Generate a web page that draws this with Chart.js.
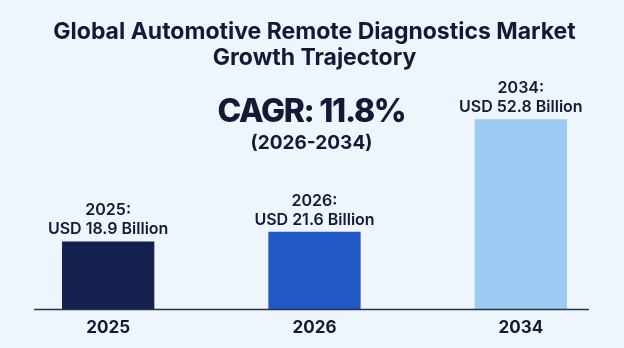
<!DOCTYPE html>
<html>
<head>
<meta charset="utf-8">
<script src="https://cdn.jsdelivr.net/npm/chart.js@4"></script>
<style>
  html, body { margin: 0; padding: 0; background: #eef5fc; }
  #wrap { width: 624px; height: 348px; }
</style>
</head>
<body>
<div id="wrap"><canvas id="marketChart" width="624" height="348"></canvas></div>
<script>
// data
var years = ["2025", "2026", "2034"];
var marketSize = [18.9, 21.6, 52.8];   // USD billion
var barColors = ["#14204e", "#2359c6", "#9ccbf3"];
var titleLines = ["Global Automotive Remote Diagnostics Market", "Growth Trajectory"];
var cagrText = "CAGR: 11.8%";
var cagrPeriod = "(2026-2034)";

var FONT = "Inter, 'Open Sans', sans-serif";
var INK = "#131a36";

// value labels over each bar: "2025:" / "USD 18.9 Billion"
const barLabels = {
    id: "barLabels",
    afterDatasetsDraw(chart) {
        var ctx = chart.ctx;
        var meta = chart.getDatasetMeta(0);
        ctx.save();
        ctx.fillStyle = INK;
        ctx.textAlign = "center";
        ctx.textBaseline = "middle";
        ctx.font = "600 16px " + FONT;
        meta.data.forEach((bar, i) => {
            ctx.fillText(years[i] + ":", bar.x, bar.y - 31);
            ctx.fillText("USD " + marketSize[i].toFixed(1) + " Billion", bar.x, bar.y - 12);
        });
        ctx.restore();
    }
};

// CAGR callout + baseline
const extras = {
    id: "extras",
    afterDatasetsDraw(chart) {
        var ctx = chart.ctx;
        var area = chart.chartArea;
        var meta = chart.getDatasetMeta(0);
        var y0 = chart.scales.y.getPixelForValue(0);
        ctx.save();
        ctx.strokeStyle = "#2a3347";
        ctx.lineWidth = 1.5;
        ctx.beginPath();
        ctx.moveTo(meta.data[0].x - 74, y0);
        ctx.lineTo(meta.data[2].x + 68, y0);
        ctx.stroke();

        var cx = (area.left + area.right) / 2 - 3;
        ctx.fillStyle = INK;
        ctx.textAlign = "center";
        ctx.textBaseline = "middle";
        ctx.letterSpacing = "-1.3px";
        ctx.font = "800 32px " + FONT;
        ctx.fillText(cagrText, cx, area.top + 35);
        ctx.letterSpacing = "0px";
        ctx.font = "700 19px " + FONT;
        ctx.fillText(cagrPeriod, cx, area.top + 66);
        ctx.restore();
    }
};

new Chart("marketChart", {
    type: "bar",
    data: {
        labels: years,
        datasets: [{
            data: marketSize,
            backgroundColor: barColors,
            borderWidth: 0,
            barPercentage: 0.9,
            categoryPercentage: 0.497
        }]
    },
    options: {
        responsive: false,
        animation: false,
        layout: { padding: { left: 5, right: 0, top: 0, bottom: 10 } },
        plugins: {
            legend: { display: false },
            tooltip: { enabled: false },
            title: {
                display: true,
                text: titleLines,
                color: INK,
                font: { family: FONT, size: 23, weight: "700", lineHeight: 1.13 },
                padding: { top: 19, bottom: 6 }
            }
        },
        scales: {
            x: {
                grid: { display: false },
                border: { display: false },
                ticks: {
                    color: INK,
                    padding: 0,
                    font: { family: FONT, size: 17, weight: "700" }
                }
            },
            y: {
                display: false,
                min: 0,
                max: 64.5
            }
        }
    },
    plugins: [barLabels, extras]
});
</script>
</body>
</html>
